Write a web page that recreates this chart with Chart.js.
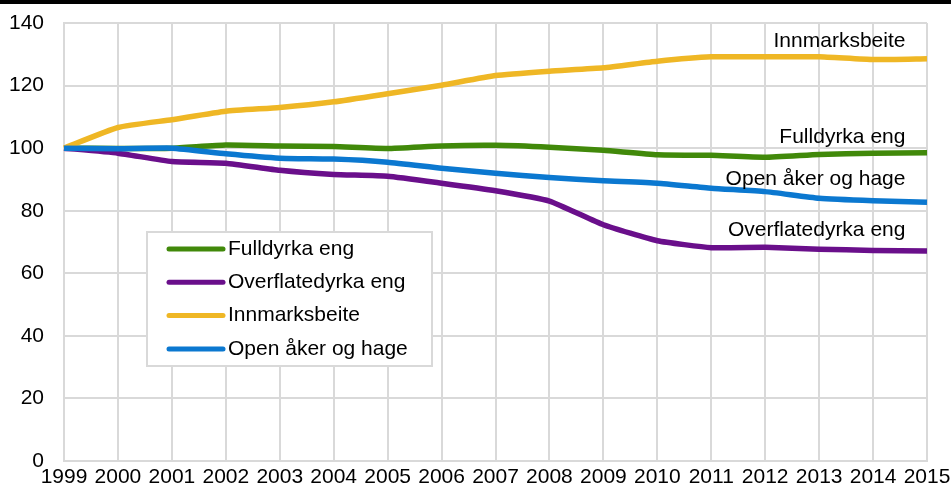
<!DOCTYPE html>
<html>
<head>
<meta charset="utf-8">
<script src="https://cdn.jsdelivr.net/npm/chart.js@4/dist/chart.umd.min.js"></script>
<style>
  html, body { margin: 0; padding: 0; background: #fff; overflow: hidden; }
  #wrap { width: 951px; height: 486px; overflow: hidden; }
</style>
</head>
<body>
<div id="wrap"><canvas id="grafico" width="951" height="492"></canvas></div>
<script>
// Data (index, 1999 = 100)
const years = ['1999','2000','2001','2002','2003','2004','2005','2006','2007','2008','2009','2010','2011','2012','2013','2014','2015'];
const fulldyrka = [100, 99.9, 100, 101.0, 100.7, 100.5, 99.9, 100.7, 100.9, 100.3, 99.3, 97.9, 97.7, 97.1, 98.0, 98.4, 98.5];
const overflatedyrka = [100, 98.4, 95.7, 95.2, 92.9, 91.6, 91.0, 88.8, 86.4, 83.1, 75.5, 70.4, 68.2, 68.3, 67.7, 67.3, 67.1];
const innmarksbeite = [100, 106.6, 109.1, 111.8, 113.0, 114.8, 117.4, 120.1, 123.2, 124.6, 125.7, 127.8, 129.2, 129.2, 129.2, 128.3, 128.6];
const openAker = [100, 99.8, 100, 98.2, 96.8, 96.5, 95.5, 93.6, 92.0, 90.6, 89.6, 88.8, 87.2, 86.1, 84.0, 83.2, 82.7];

const seriesNames = ['Fulldyrka eng', 'Overflatedyrka eng', 'Innmarksbeite', 'Open åker og hage'];
const seriesColors = ['#41890a', '#6a0f8b', '#efb725', '#0b78d0'];
// end labels: value on y axis where each label sits
const endLabelValues = [103.6, 73.9, 134.2, 90.1];

const fontFamily = '"Liberation Sans", Arial, sans-serif';
const gridColor = '#d9d9d9';

// Legend box and end labels drawn on the canvas
const decorPlugin = {
    id: 'decor',
    beforeDraw(chart) {
        const ctx = chart.ctx;
        ctx.save();
        ctx.fillStyle = '#000';
        ctx.fillRect(0, 0, chart.width, 4); // black rule at top
        ctx.restore();
    },
    afterDatasetsDraw(chart) {
        const ctx = chart.ctx;
        const area = chart.chartArea;
        const yScale = chart.scales.y;
        const xScale = chart.scales.x;

        ctx.save();
        // end labels
        ctx.font = '21px ' + fontFamily;
        ctx.fillStyle = '#000';
        ctx.textAlign = 'right';
        ctx.textBaseline = 'middle';
        const labelRight = xScale.getPixelForValue(15.6);
        seriesNames.forEach((name, i) => {
            ctx.fillText(name, labelRight, yScale.getPixelForValue(endLabelValues[i]));
        });

        // legend
        const lx = area.left + 83, ly = 232, lw = 285, lh = 134;
        ctx.fillStyle = '#fff';
        ctx.fillRect(lx, ly, lw, lh);
        ctx.strokeStyle = gridColor;
        ctx.lineWidth = 2;
        ctx.strokeRect(lx, ly, lw, lh);

        ctx.textAlign = 'left';
        ctx.lineCap = 'round';
        seriesNames.forEach((name, i) => {
            const cy = ly + 17 + i * 33.3;
            ctx.strokeStyle = seriesColors[i];
            ctx.lineWidth = 5;
            ctx.beginPath();
            ctx.moveTo(lx + 22, cy);
            ctx.lineTo(lx + 76, cy);
            ctx.stroke();
            ctx.fillStyle = '#000';
            ctx.fillText(name, lx + 81, cy);
        });
        ctx.restore();
    }
};

const seriesData = [fulldyrka, overflatedyrka, innmarksbeite, openAker];

new Chart(document.getElementById('grafico'), {
    type: 'line',
    data: {
        labels: years,
        datasets: seriesData.map((d, i) => ({
            label: seriesNames[i],
            data: d,
            borderColor: seriesColors[i],
            backgroundColor: seriesColors[i],
            borderWidth: 5.5,
            pointRadius: 0,
            tension: 0.15,
            order: 4 - i
        }))
    },
    options: {
        responsive: false,
        animation: false,
        layout: { padding: { top: 23, right: 24, left: 0, bottom: 0 } },
        plugins: { legend: { display: false }, tooltip: { enabled: false } },
        scales: {
            x: {
                grid: { color: gridColor, lineWidth: 2, drawTicks: false },
                border: { color: gridColor, width: 2 },
                ticks: { color: '#000', font: { family: fontFamily, size: 21 }, padding: 4, maxRotation: 0, autoSkip: false },
                afterFit: s => { s.height = 31; s.paddingLeft = 0; s.paddingRight = 0; }
            },
            y: {
                min: 0,
                max: 140,
                grid: { color: gridColor, lineWidth: 2, drawTicks: false },
                border: { color: gridColor, width: 2 },
                ticks: { stepSize: 20, color: '#000', font: { family: fontFamily, size: 21 }, padding: 20 },
                afterFit: s => { s.width = 64; s.paddingTop = 0; s.paddingBottom = 0; }
            }
        }
    },
    plugins: [decorPlugin]
});
</script>
</body>
</html>
